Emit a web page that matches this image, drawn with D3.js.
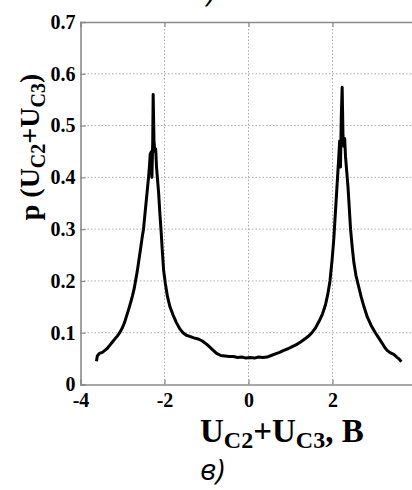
<!DOCTYPE html>
<html>
<head>
<meta charset="utf-8">
<script src="https://cdn.jsdelivr.net/npm/d3@7"></script>
<style>
  body { margin: 0; background: #fff; }
  svg { display: block; }
</style>
</head>
<body>
<div id="chart"></div>
<script>
(function()
{
    var width = 412;
    var height = 490;

    // voltage U_C2+U_C3, V
    var u = [-3.62, -3.60, -3.55, -3.48, -3.42, -3.36, -3.30, -3.24, -3.18, -3.12,
             -3.06, -3.00, -2.95, -2.90, -2.85, -2.80, -2.76, -2.72, -2.69, -2.65,
             -2.61, -2.57, -2.53, -2.50, -2.47, -2.44, -2.41, -2.38, -2.36, -2.34,
             -2.31, -2.30, -2.28, -2.27, -2.25, -2.23, -2.21, -2.19, -2.17, -2.14,
             -2.11, -2.08, -2.05, -2.02, -1.98, -1.93, -1.87, -1.80, -1.72, -1.64,
             -1.56, -1.48, -1.40, -1.30, -1.20, -1.10, -1.00, -0.92, -0.84, -0.76,
             -0.66, -0.56, -0.46, -0.36, -0.26, -0.16, -0.06, 0.04, 0.14, 0.24,
             0.34, 0.44, 0.54, 0.64, 0.74, 0.84, 0.94, 1.04, 1.14, 1.24,
             1.34, 1.44, 1.52, 1.60, 1.68, 1.76, 1.83, 1.89, 1.94, 1.99,
             2.03, 2.06, 2.09, 2.12, 2.15, 2.17, 2.19, 2.21, 2.23, 2.25,
             2.27, 2.29, 2.31, 2.34, 2.37, 2.40, 2.43, 2.47, 2.51, 2.56,
             2.62, 2.68, 2.75, 2.83, 2.92, 3.02, 3.10, 3.18, 3.24, 3.30,
             3.38, 3.46, 3.53, 3.59, 3.64];
    // probability density p
    var p = [0.045, 0.055, 0.060, 0.062, 0.066, 0.070, 0.076, 0.082, 0.088, 0.094,
             0.101, 0.110, 0.120, 0.133, 0.146, 0.160, 0.172, 0.186, 0.200, 0.218,
             0.240, 0.262, 0.285, 0.300, 0.325, 0.350, 0.375, 0.400, 0.420, 0.445,
             0.450, 0.400, 0.470, 0.560, 0.470, 0.450, 0.455, 0.420, 0.400, 0.370,
             0.330, 0.295, 0.255, 0.220, 0.195, 0.170, 0.150, 0.135, 0.120, 0.108,
             0.100, 0.095, 0.093, 0.090, 0.088, 0.084, 0.078, 0.072, 0.066, 0.060,
             0.056, 0.055, 0.054, 0.054, 0.052, 0.053, 0.051, 0.052, 0.051, 0.053,
             0.052, 0.053, 0.056, 0.059, 0.062, 0.066, 0.069, 0.073, 0.077, 0.082,
             0.088, 0.094, 0.101, 0.110, 0.122, 0.136, 0.153, 0.175, 0.200, 0.240,
             0.280, 0.320, 0.360, 0.400, 0.440, 0.470, 0.420, 0.520, 0.574, 0.480,
             0.460, 0.475, 0.440, 0.410, 0.380, 0.340, 0.300, 0.265, 0.235, 0.210,
             0.190, 0.170, 0.150, 0.130, 0.114, 0.100, 0.090, 0.080, 0.072, 0.066,
             0.061, 0.058, 0.053, 0.049, 0.044];

    var xTicks = [-4, -2, 0, 2, 4];
    var yTicks = [0, 0.1, 0.2, 0.3, 0.4, 0.5, 0.6, 0.7];

    var serif = "'Liberation Serif', 'Times New Roman', serif";

    var svg = d3.select("#chart")
        .append("svg")
        .attr("width", width)
        .attr("height", height);

    var x = d3.scaleLinear().domain([-4, 4]).range([80.5, 416.5]);
    var y = d3.scaleLinear().domain([0, 0.7]).range([384.5, 22]);

    // dotted grid
    svg.append("g").selectAll("line").data(xTicks.slice(1, -1))
        .enter().append("line")
        .attr("x1", function(d){return x(d)}).attr("x2", function(d){return x(d)})
        .attr("y1", y(0.7)).attr("y2", y(0))
        .attr("stroke", "#aaa").attr("stroke-width", 1)
        .attr("stroke-dasharray", "1.5,2");
    svg.append("g").selectAll("line").data(yTicks.slice(1, -1))
        .enter().append("line")
        .attr("x1", x(-4)).attr("x2", x(4))
        .attr("y1", function(d){return y(d)}).attr("y2", function(d){return y(d)})
        .attr("stroke", "#aaa").attr("stroke-width", 1)
        .attr("stroke-dasharray", "1.5,2");

    // axes: ticks inward, box on top
    var xAxis = svg.append("g").attr("transform", "translate(0," + y(0) + ")")
        .call(d3.axisBottom(x).tickValues(xTicks).tickSize(-5).tickPadding(3)
            .tickFormat(function(d){return String(d)}));
    var xTop = svg.append("g").attr("transform", "translate(0," + y(0.7) + ")")
        .call(d3.axisTop(x).tickValues(xTicks).tickSize(-5).tickFormat(""));
    var yAxis = svg.append("g").attr("transform", "translate(" + x(-4) + ",0)")
        .call(d3.axisLeft(y).tickValues(yTicks).tickSize(-5).tickPadding(5)
            .tickFormat(function(d){return d === 0 ? "0" : d.toFixed(1)}));

    [xAxis, xTop, yAxis].forEach(function(g) {
        g.select(".domain").attr("stroke", "#8a8a8a").attr("stroke-width", 1.6);
        g.selectAll(".tick line").attr("stroke", "#8a8a8a").attr("stroke-width", 1.2);
        g.selectAll(".tick text")
            .attr("fill", "#000")
            .style("font-family", serif)
            .style("font-weight", "bold")
            .style("font-size", "20px");
    });
    xAxis.selectAll(".tick text").attr("dy", "0.95em");

    // density curve
    var line = d3.line()
        .x(function(d){return x(u[d])})
        .y(function(d){return y(p[d])});

    svg.append("path")
        .datum(d3.range(u.length))
        .attr("fill", "none")
        .attr("stroke", "#000")
        .attr("stroke-width", 3)
        .attr("stroke-linejoin", "round")
        .attr("d", line);

    // axis titles
    var yTitle = svg.append("text")
        .attr("transform", "translate(39,147) rotate(-90)")
        .attr("text-anchor", "middle")
        .style("font-family", serif)
        .style("font-weight", "bold")
        .style("font-size", "28px");
    yTitle.append("tspan").text("p (U");
    yTitle.append("tspan").attr("dy", 6).style("font-size", "20px").text("C2");
    yTitle.append("tspan").attr("dy", -6).text("+U");
    yTitle.append("tspan").attr("dy", 6).style("font-size", "20px").text("C3");
    yTitle.append("tspan").attr("dy", -6).text(")");

    var xTitle = svg.append("text")
        .attr("x", 200).attr("y", 442)
        .style("font-family", serif)
        .style("font-weight", "bold")
        .style("font-size", "33px");
    xTitle.append("tspan").text("U");
    xTitle.append("tspan").attr("dy", 6).style("font-size", "24px").text("C2");
    xTitle.append("tspan").attr("dy", -6).text("+U");
    xTitle.append("tspan").attr("dy", 6).style("font-size", "24px").text("C3");
    xTitle.append("tspan").attr("dy", -6).text(", B");

    // panel labels
    svg.append("text")
        .attr("x", 200).attr("y", 480)
        .style("font-family", "'Open Sans', sans-serif")
        .style("font-style", "italic")
        .style("font-size", "30px")
        .text("в)");
    svg.append("text")
        .attr("x", 207).attr("y", 2)
        .style("font-family", "'Open Sans', sans-serif")
        .style("font-style", "italic")
        .style("font-size", "30px")
        .text(")");
})();
</script>
</body>
</html>
